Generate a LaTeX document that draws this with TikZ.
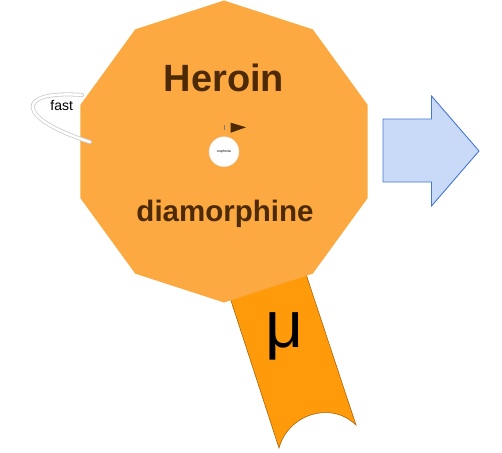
\documentclass[tikz,border=0pt]{standalone}
\usepackage{fontspec}
\setmainfont{Liberation Sans}
\usetikzlibrary{shapes.geometric}
\definecolor{badgeorange}{RGB}{251,169,64}
\definecolor{ribbonorange}{RGB}{255,155,10}
\definecolor{ribbonedge}{RGB}{170,100,10}
\definecolor{darkbrown}{RGB}{78,42,4}
\definecolor{arrowfill}{RGB}{201,218,248}
\definecolor{arrowedge}{RGB}{70,120,210}
\begin{document}
\begin{tikzpicture}[x=1pt,y=-1pt,
	bigtext/.style={font=\fontsize{#1}{#1}\selectfont\bfseries,text=darkbrown,inner sep=0pt,anchor=base}]
	\useasboundingbox (0,0) rectangle (502,452);
	\draw[fill=ribbonorange,draw=ribbonedge,line width=0.6pt] (221,270) -- (279,448) .. controls (288,415) and (330,400) .. (356,425) -- (298,250) -- cycle;
	\node[regular polygon,regular polygon sides=10,regular polygon rotate=18,minimum size=302pt,inner sep=0pt,fill=badgeorange] (badge) at (224,151.5) {};
	\node[bigtext=38] (heroin) at (224,91.7) {Heroin};
	\node[bigtext=29.5] (diamorphine) at (225,221.7) {diamorphine};
	\node[font=\fontsize{66}{66}\selectfont,inner sep=0pt,anchor=base] (mu) at (285,347) {μ};
	\node[circle,fill=white,draw=gray!25,minimum size=30pt,inner sep=0pt,font=\fontsize{3.5}{3.5}\selectfont] (hub) at (224,151.7) {euphoria};
	\fill[darkbrown] (230.7,122.7) -- (246,127.3) -- (230.7,132.7) -- cycle;
	\draw[gray,line width=0.3pt] (224.3,125) -- (224.3,129.5);
	\draw[fill=arrowfill,draw=arrowedge,line width=0.9pt] (383,119) -- (431.5,119) -- (431.5,96) -- (479,151) -- (431.5,206) -- (431.5,182) -- (383,182) -- cycle;
	\coordinate (fastA) at (82,95);
	\coordinate (fastB) at (90,142);
	\draw[line width=4pt,gray!40,line cap=round] (fastA) .. controls (15,90) and (15,118) .. (fastB);
	\draw[line width=2.4pt,white,line cap=round] (fastA) .. controls (15,90) and (15,118) .. (fastB);
	\node[font=\fontsize{14}{14}\selectfont,inner sep=0pt,anchor=base] (fast) at (61.7,110.7) {fast};
\end{tikzpicture}
\end{document}
